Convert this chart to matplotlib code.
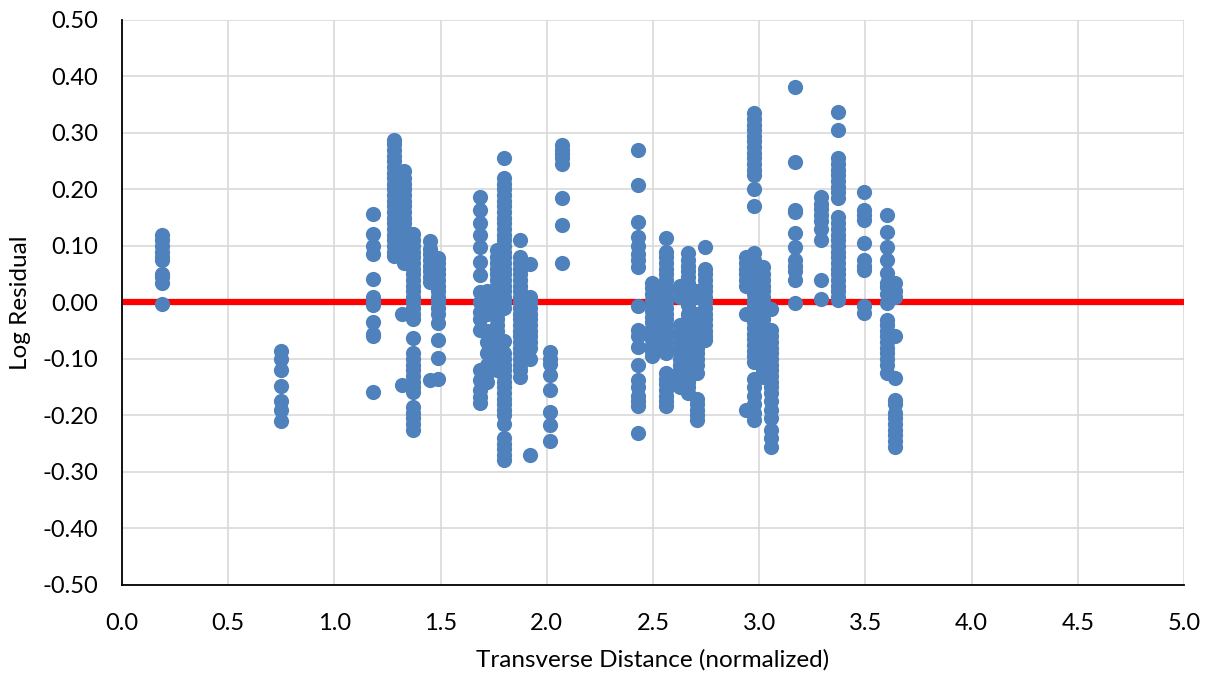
"""Log residual vs normalized transverse distance, scatter with zero line."""

import matplotlib

matplotlib.use("Agg")
import matplotlib.pyplot as plt
import numpy as np

# columns of residuals: (x position, y values)
col_x = [
    0.19, 0.75, 1.18, 1.28, 1.33, 1.32, 1.37, 1.45, 1.49,
    1.685, 1.72, 1.765, 1.80, 1.875, 1.92, 2.015, 2.07,
    2.43, 2.495, 2.56, 2.625, 2.665, 2.705, 2.745,
    2.94, 2.975, 3.02, 3.055, 3.17, 3.29, 3.37, 3.495, 3.60, 3.64,
]
col_y = [
    [0.12, 0.11, 0.10, 0.09, 0.08, 0.075, 0.05, 0.045, 0.035, -0.003],
    [-0.085, -0.10, -0.12, -0.148, -0.175, -0.19, -0.21],
    [0.157, 0.122, 0.10, 0.085, 0.042, 0.01, 0.0, -0.005, -0.035, -0.055, -0.06, -0.159],
    [0.288, 0.28, 0.27, 0.26, 0.25, 0.24, 0.23, 0.22, 0.21, 0.20, 0.19, 0.18,
     0.17, 0.16, 0.15, 0.14, 0.13, 0.12, 0.11, 0.10, 0.09, 0.082],
    [0.232, 0.22, 0.21, 0.20, 0.19, 0.18, 0.17, 0.16, 0.15, 0.14, 0.13, 0.12,
     0.11, 0.10, 0.09, 0.08, 0.07],
    [-0.02, -0.146],
    [0.122, 0.11, 0.10, 0.09, 0.08, 0.07, 0.06, 0.05, 0.04, 0.03, 0.02, 0.01,
     0.0, -0.01, -0.02, -0.03, -0.062, -0.09, -0.10, -0.11, -0.12, -0.13,
     -0.14, -0.15, -0.158, -0.185, -0.195, -0.205, -0.215, -0.225],
    [0.108, 0.095, 0.085, 0.075, 0.065, 0.055, 0.045, 0.037, -0.138],
    [0.078, 0.07, 0.06, 0.05, 0.04, 0.03, 0.02, 0.01, 0.0, -0.01, -0.02,
     -0.036, -0.066, -0.099, -0.135],
    [0.187, 0.164, 0.14, 0.119, 0.099, 0.072, 0.049, 0.019, 0.0, -0.016,
     -0.03, -0.049, -0.12, -0.137, -0.155, -0.167, -0.178],
    [0.02, 0.0, -0.02, -0.05, -0.07, -0.09, -0.11, -0.125, -0.14],
    [0.093, 0.08, 0.07, 0.06, 0.05, 0.04, 0.03, 0.02, 0.01, 0.0, -0.01, -0.02,
     -0.03, -0.04, -0.05, -0.06, -0.07, -0.08, -0.09, -0.10, -0.11, -0.119],
    [0.255, 0.22, 0.21, 0.20, 0.19, 0.18, 0.17, 0.16, 0.15, 0.14, 0.13, 0.12,
     0.11, 0.10, 0.09, 0.08, 0.07, 0.06, 0.05, 0.04, 0.03, 0.02, 0.01, 0.0,
     -0.01, -0.069, -0.09, -0.10, -0.11, -0.12, -0.13, -0.14, -0.15, -0.16,
     -0.17, -0.18, -0.19, -0.20, -0.215, -0.24, -0.25, -0.26, -0.27, -0.279],
    [0.111, 0.08, 0.07, 0.06, 0.05, 0.04, 0.03, 0.02, 0.01, 0.0, -0.01, -0.02,
     -0.03, -0.04, -0.05, -0.06, -0.07, -0.08, -0.09, -0.10, -0.11, -0.12, -0.131],
    [0.068, 0.01, 0.0, -0.01, -0.02, -0.03, -0.04, -0.05, -0.06, -0.07,
     -0.08, -0.10, -0.27],
    [-0.087, -0.10, -0.108, -0.128, -0.155, -0.193, -0.217, -0.246],
    [0.278, 0.27, 0.262, 0.255, 0.245, 0.185, 0.138, 0.07],
    [0.270, 0.208, 0.143, 0.116, 0.10, 0.085, 0.075, 0.063, -0.007, -0.049,
     -0.06, -0.078, -0.111, -0.137, -0.15, -0.165, -0.175, -0.184, -0.231],
    [0.035, 0.025, 0.015, 0.005, -0.005, -0.015, -0.025, -0.035, -0.045,
     -0.055, -0.065, -0.075, -0.085, -0.095],
    [0.114, 0.09, 0.08, 0.07, 0.06, 0.05, 0.04, 0.03, 0.02, 0.01, 0.0, -0.01,
     -0.02, -0.03, -0.04, -0.05, -0.06, -0.07, -0.08, -0.09, -0.125, -0.135,
     -0.145, -0.155, -0.165, -0.175, -0.184],
    [0.03, 0.02, 0.01, -0.04, -0.05, -0.06, -0.07, -0.08, -0.09, -0.10,
     -0.11, -0.12, -0.13, -0.14, -0.15],
    [0.087, 0.075, 0.065, 0.055, 0.045, 0.035, 0.025, 0.015, 0.005, -0.005,
     -0.02, -0.03, -0.04, -0.05, -0.06, -0.07, -0.08, -0.09, -0.10, -0.11,
     -0.12, -0.13, -0.14, -0.15, -0.16],
    [0.02, 0.01, -0.02, -0.03, -0.04, -0.05, -0.06, -0.07, -0.08, -0.09,
     -0.10, -0.11, -0.125, -0.17, -0.18, -0.19, -0.20, -0.208],
    [0.099, 0.06, 0.05, 0.04, 0.03, 0.02, 0.01, 0.0, -0.01, -0.02, -0.03,
     -0.04, -0.05, -0.06, -0.066],
    [0.081, 0.07, 0.06, 0.05, 0.04, 0.03, -0.02, -0.19],
    [0.335, 0.325, 0.315, 0.305, 0.295, 0.285, 0.275, 0.265, 0.255, 0.245,
     0.235, 0.225, 0.20, 0.17, 0.087, 0.075, 0.065, 0.055, 0.045, 0.035,
     0.025, 0.015, 0.005, -0.005, -0.015, -0.025, -0.035, -0.045, -0.055,
     -0.065, -0.075, -0.085, -0.095, -0.105, -0.135, -0.15, -0.165, -0.18,
     -0.195, -0.208],
    [0.063, 0.05, 0.04, 0.03, 0.02, 0.01, 0.0, -0.01, -0.02, -0.03, -0.04,
     -0.05, -0.06, -0.07, -0.08, -0.09, -0.10, -0.11, -0.12, -0.131],
    [-0.012, -0.049, -0.06, -0.07, -0.08, -0.09, -0.10, -0.11, -0.12, -0.13,
     -0.14, -0.15, -0.16, -0.175, -0.19, -0.205, -0.225, -0.24, -0.255],
    [0.382, 0.249, 0.164, 0.16, 0.123, 0.099, 0.075, 0.065, 0.055, 0.04, -0.001],
    [0.187, 0.175, 0.165, 0.155, 0.145, 0.13, 0.111, 0.04, 0.007],
    [0.338, 0.305, 0.256, 0.245, 0.235, 0.225, 0.215, 0.205, 0.195, 0.185,
     0.152, 0.14, 0.13, 0.12, 0.11, 0.10, 0.09, 0.08, 0.07, 0.06, 0.05, 0.04,
     0.03, 0.02, 0.01, 0.004],
    [0.196, 0.164, 0.155, 0.146, 0.105, 0.075, 0.065, 0.057, -0.007, -0.019],
    [0.155, 0.125, 0.099, 0.075, 0.052, 0.035, 0.028, 0.015, -0.001, -0.031,
     -0.04, -0.05, -0.06, -0.07, -0.08, -0.09, -0.10, -0.11, -0.125],
    [0.035, 0.02, 0.01, -0.06, -0.134, -0.172, -0.18, -0.195, -0.205, -0.215,
     -0.225, -0.235, -0.245, -0.255],
]

zero_line_x = [0.0, 5.0]
zero_line_y = [0.0, 0.0]

x_ticks = [0.0, 0.5, 1.0, 1.5, 2.0, 2.5, 3.0, 3.5, 4.0, 4.5, 5.0]
y_ticks = [0.5, 0.4, 0.3, 0.2, 0.1, 0.0, -0.1, -0.2, -0.3, -0.4, -0.5]

plt.rcParams["font.family"] = ["Lato", "DejaVu Sans"]

xs = np.concatenate([np.full(len(ys), x) for x, ys in zip(col_x, col_y)])
ys = np.concatenate([np.asarray(v, dtype=float) for v in col_y])

fig = plt.figure(figsize=(12.10, 6.77), dpi=100)
ax = fig.add_axes([0.1008, 0.1359, 0.8777, 0.8346])

ax.plot(zero_line_x, zero_line_y, color="#FF0000", linewidth=4.5, zorder=2, solid_capstyle="butt")
ax.scatter(xs, ys, s=120, color="#4F81BD", linewidths=0, zorder=3)

ax.set_xlim(0, 5)
ax.set_ylim(-0.5, 0.5)
ax.set_xticks(x_ticks)
ax.set_yticks(y_ticks)
ax.set_xticklabels([f"{v:.1f}" for v in x_ticks])
ax.set_yticklabels([f"{v:.2f}" for v in y_ticks])
ax.tick_params(length=0, labelsize=17, colors="black")
ax.tick_params(axis="y", pad=17)
ax.tick_params(axis="x", pad=20)

ax.grid(True, color="#D9D9D9", linewidth=1.2, zorder=0)
ax.set_axisbelow(True)
for side in ("top", "right"):
    ax.spines[side].set_visible(False)
for side in ("left", "bottom"):
    ax.spines[side].set_color("black")
    ax.spines[side].set_linewidth(1.3)

ax.set_xlabel("Transverse Distance (normalized)", fontsize=17.5, labelpad=11)
ax.set_ylabel("Log Residual", fontsize=17.5, labelpad=8)

fig.savefig("out.png", dpi=100)
plt.close(fig)
